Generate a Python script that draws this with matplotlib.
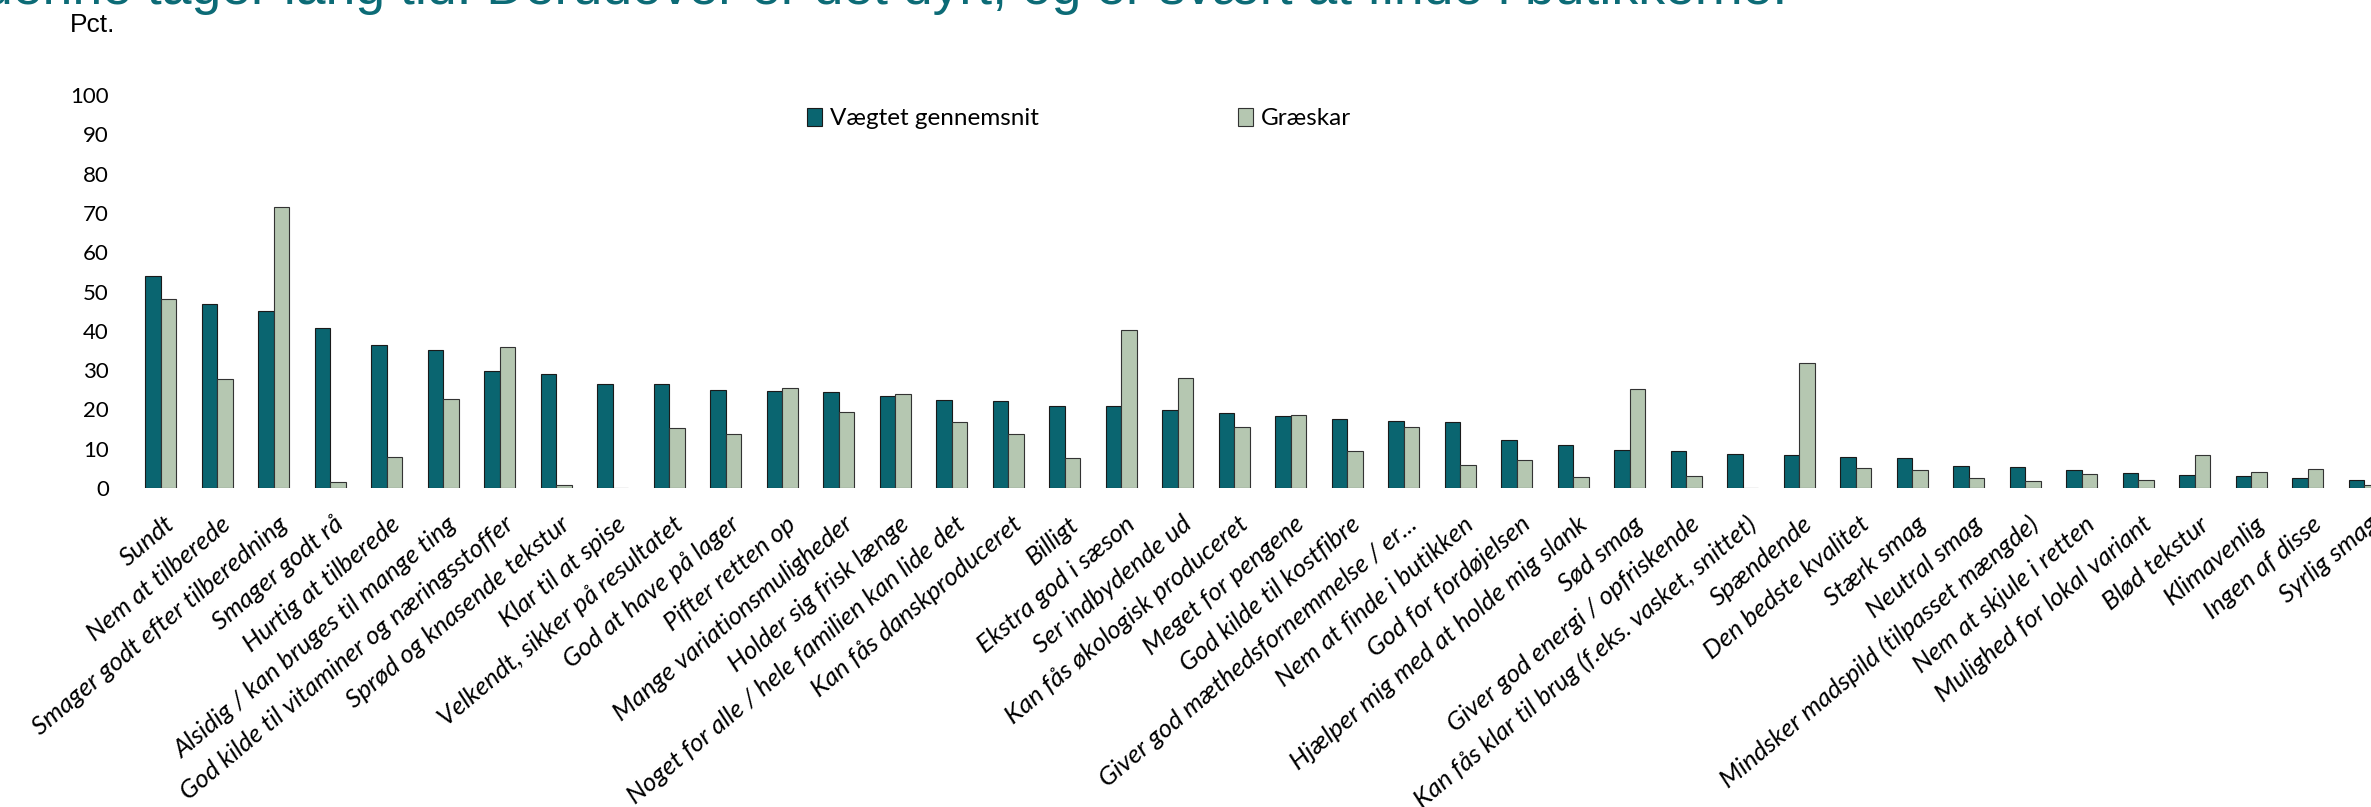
import matplotlib
matplotlib.use("Agg")
import matplotlib.pyplot as plt
import matplotlib.transforms as mtransforms
import numpy as np

categories = [
    "Sundt",
    "Nem at tilberede",
    "Smager godt efter tilberedning",
    "Smager godt rå",
    "Hurtig at tilberede",
    "Alsidig / kan bruges til mange ting",
    "God kilde til vitaminer og næringsstoffer",
    "Sprød og knasende tekstur",
    "Klar til at spise",
    "Velkendt, sikker på resultatet",
    "God at have på lager",
    "Pifter retten op",
    "Mange variationsmuligheder",
    "Holder sig frisk længe",
    "Noget for alle / hele familien kan lide det",
    "Kan fås danskproduceret",
    "Billigt",
    "Ekstra god i sæson",
    "Ser indbydende ud",
    "Kan fås økologisk produceret",
    "Meget for pengene",
    "God kilde til kostfibre",
    "Giver god mæthedsfornemmelse / er...",
    "Nem at finde i butikken",
    "God for fordøjelsen",
    "Hjælper mig med at holde mig slank",
    "Sød smag",
    "Giver god energi / opfriskende",
    "Kan fås klar til brug (f.eks. vasket, snittet)",
    "Spændende",
    "Den bedste kvalitet",
    "Stærk smag",
    "Neutral smag",
    "Mindsker madspild (tilpasset mængde)",
    "Nem at skjule i retten",
    "Mulighed for lokal variant",
    "Blød tekstur",
    "Klimavenlig",
    "Ingen af disse",
    "Syrlig smag",
]

vaegtet = [53.9, 46.9, 45.0, 40.8, 36.5, 35.2, 29.8, 28.9, 26.5, 26.5,
           25.0, 24.7, 24.5, 23.3, 22.4, 22.2, 20.8, 20.8, 19.8, 19.0,
           18.4, 17.6, 17.0, 16.8, 12.2, 10.9, 9.7, 9.3, 8.7, 8.3,
           8.0, 7.6, 5.6, 5.4, 4.7, 3.7, 3.2, 3.1, 2.5, 2.0]

graeskar = [48.1, 27.7, 71.5, 1.4, 7.8, 22.6, 35.8, 0.8, 0.0, 15.3,
            13.7, 25.4, 19.3, 24.0, 16.9, 13.8, 7.6, 40.3, 28.1, 15.4,
            18.7, 9.4, 15.6, 5.8, 7.1, 2.9, 25.1, 3.1, 0.0, 31.7,
            5.0, 4.5, 2.5, 1.9, 3.6, 2.0, 8.3, 4.0, 4.9, 0.8]

yticks = list(range(0, 101, 10))

title = "denne tager lang tid. Derudover er det dyrt, og er svært at finde i butikkerne."

TEAL = "#0a6570"
SAGE = "#b5c7b1"
TITLE_COLOR = "#0c6b76"

W, H = 2371, 807
fig = plt.figure(figsize=(W / 100, H / 100), dpi=100)

# axes run past the right edge of the canvas on purpose (last bar is clipped)
group_w = 56.5
ax_left = 132.5
ax = fig.add_axes([ax_left / W, (H - 488) / H, 40 * group_w / W, 393 / H])

x = np.arange(len(categories))
bw = 0.275
ax.bar(x - bw / 2, vaegtet, bw, color=TEAL, edgecolor="#1a1a1a", linewidth=0.8,
       label="Vægtet gennemsnit")
ax.bar(x + bw / 2, graeskar, bw, color=SAGE, edgecolor="#333333", linewidth=0.8,
       label="Græskar")

ax.set_xlim(-0.5, len(categories) - 0.5)
ax.set_ylim(0, 100)
ax.set_yticks(yticks)
ax.set_yticklabels([str(v) for v in yticks], fontsize=16, family="Lato")
ax.tick_params(axis="y", length=0, pad=17)
ax.tick_params(axis="x", length=0, pad=17.5)
for s in ax.spines.values():
    s.set_visible(False)

ax.set_xticks(x)
ax.set_xticklabels(categories, rotation=40, ha="right", va="top",
                   rotation_mode="anchor", fontsize=18.5, family="Lato",
                   style="italic")
shift = mtransforms.ScaledTranslation(3 / 100, 0, fig.dpi_scale_trans)
for lbl in ax.get_xticklabels():
    lbl.set_transform(lbl.get_transform() + shift)

leg = ax.legend(loc="upper left", bbox_to_anchor=(807 / W, 1 - 108 / H),
                bbox_transform=fig.transFigure, ncol=2, frameon=False,
                prop={"family": "Lato", "size": 17.5},
                handlelength=0.6, handleheight=0.75, handletextpad=0.35,
                columnspacing=8.2, borderpad=0, borderaxespad=0)

fig.text(70 / W, 1 - 32 / H, "Pct.", fontsize=19, family="Liberation Sans",
         ha="left", va="baseline")

fig.text(1787 / W, 1 - 4 / H, title, fontsize=38.5, family="Liberation Sans",
         color=TITLE_COLOR, ha="right", va="baseline")

fig.savefig("out.png", dpi=100)
